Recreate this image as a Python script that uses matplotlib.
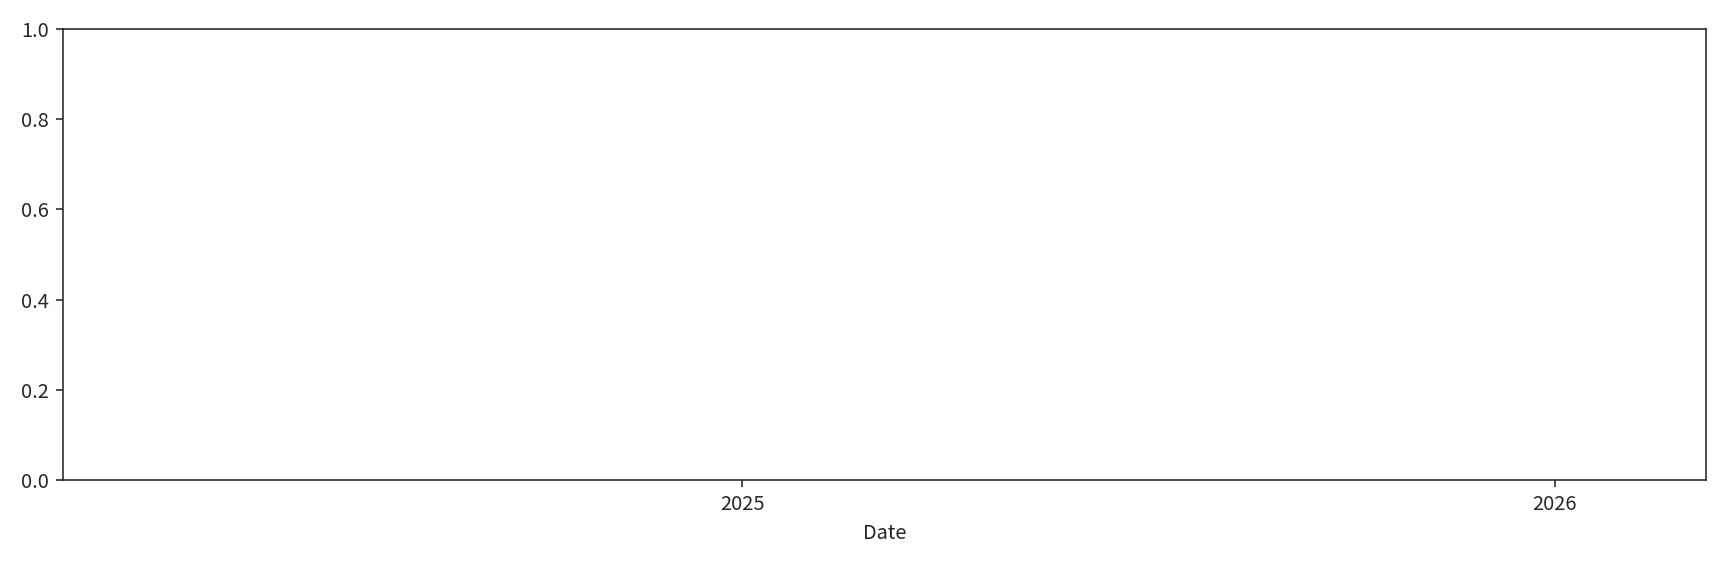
import matplotlib
matplotlib.use("Agg")
import matplotlib.pyplot as plt
import matplotlib.dates as mdates
import pandas as pd

plt.rcParams['font.family'] = ['Noto Sans CJK JP', 'DejaVu Sans']

x_start = pd.Timestamp("2024-03-02")
x_end = pd.Timestamp("2026-03-10")
xlabel = "Date"

fig = plt.figure(figsize=(12, 3.896), dpi=144)
ax = fig.add_axes([63/1728, 1-480/561, (1706-63)/1728, (480-29)/561])
ax.set_xlim(x_start, x_end)
ax.set_ylim(0, 1)
ax.xaxis.set_major_locator(mdates.YearLocator())
ax.xaxis.set_major_formatter(mdates.DateFormatter("%Y"))
ax.set_xlabel(xlabel, fontsize=10, color="#262626")
for s in ax.spines.values():
    s.set_color("#262626")
ax.tick_params(colors="#262626", labelsize=10)
fig.savefig("out.png", dpi=144)
